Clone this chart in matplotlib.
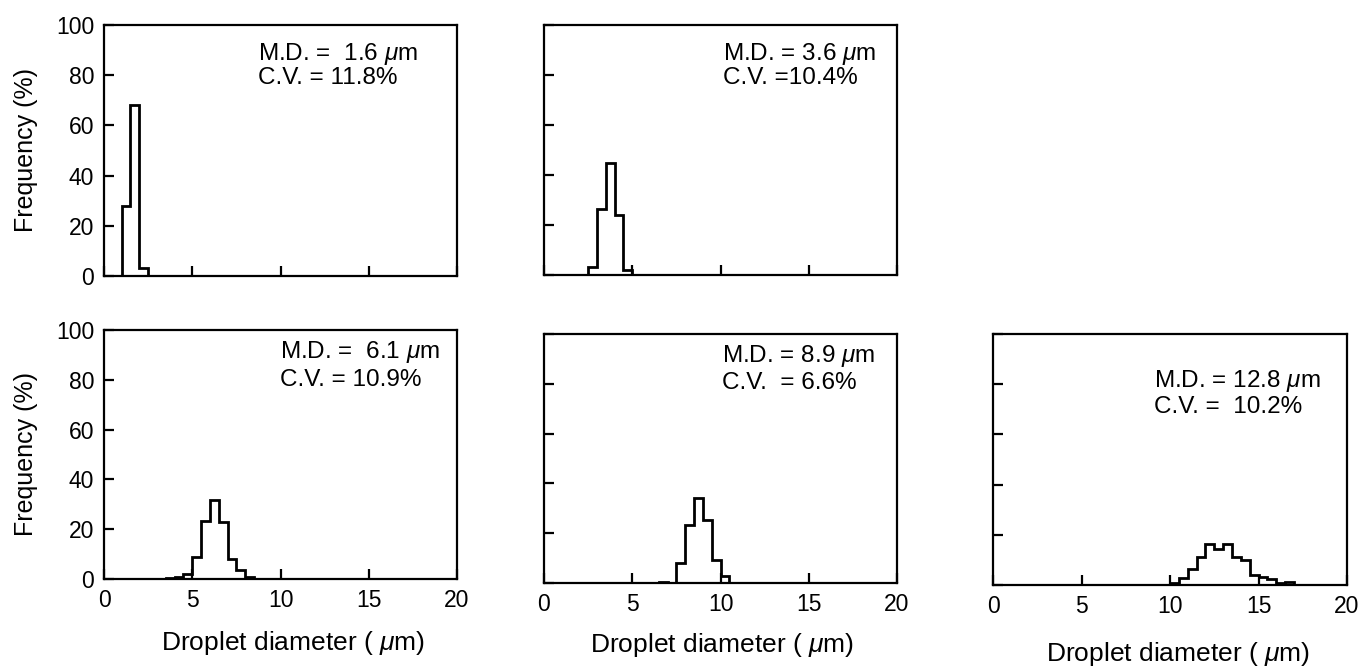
import matplotlib
matplotlib.use('Agg')
import matplotlib.pyplot as plt
import numpy as np

plt.rcParams['font.family'] = ['Liberation Sans', 'DejaVu Sans']
plt.rcParams['mathtext.fontset'] = 'custom'
plt.rcParams['mathtext.it'] = 'Liberation Sans:italic'
plt.rcParams['mathtext.rm'] = 'Liberation Sans'

# droplet size distributions, bin width 0.5 um, frequency in %
bin_width = 0.5

start_1 = 0.0
freq_1 = [0, 0, 28, 68, 3.3, 0]

start_2 = 1.5
freq_2 = [0, 0, 3.2, 26.4, 45, 24.2, 1.9, 0, 0]

start_3 = 2.0
freq_3 = [0, 0, 0.1, 0.3, 0.7, 1.9, 8.9, 23.4, 31.6, 22.7, 8.1, 3.8, 0.7, 0.2, 0, 0]

start_4 = 6.0
freq_4 = [0, 0.3, 0, 8.1, 23.3, 34, 25.2, 9.4, 3.0, 0]

start_5 = 9.5
freq_5 = [0, 0.7, 2.9, 6.3, 11, 16.5, 14.3, 16.5, 11.3, 10, 4, 3.3, 2.5, 0.7, 1.0, 0, 0]

md_labels = [r'M.D. =  1.6 $\mathit{\mu}$m', r'M.D. = 3.6 $\mathit{\mu}$m',
             r'M.D. =  6.1 $\mathit{\mu}$m', r'M.D. = 8.9 $\mathit{\mu}$m',
             r'M.D. = 12.8 $\mathit{\mu}$m']
cv_labels = ['C.V. = 11.8%', 'C.V. =10.4%', 'C.V. = 10.9%', 'C.V.  = 6.6%', 'C.V. =  10.2%']

x_ticks = [0, 5, 10, 15, 20]
y_ticks = [0, 20, 40, 60, 80, 100]

W, H = 1360, 666
fig = plt.figure(figsize=(W / 100, H / 100), dpi=100)

# (left, right, top, bottom) in pixels
boxes = [(104, 457, 25, 276), (544, 897, 25, 275),
         (104, 457, 330, 579), (544, 897, 334, 583), (993, 1347, 334, 585)]
text_pos = [(0.436, 0.884, 0.789), (0.507, 0.884, 0.789),
            (0.499, 0.912, 0.80), (0.504, 0.912, 0.803), (0.455, 0.813, 0.709)]
xlabel_pos = [None, None, (0.535, -0.257), (0.505, -0.249), (0.522, -0.275)]

starts = [start_1, start_2, start_3, start_4, start_5]
freqs = [freq_1, freq_2, freq_3, freq_4, freq_5]

for i in range(5):
    l, r, t, b = boxes[i]
    ax = fig.add_axes([l / W, (H - b) / H, (r - l) / W, (b - t) / H])
    vals = np.array(freqs[i])
    edges = starts[i] + bin_width * np.arange(len(vals) + 1)
    ax.stairs(vals, edges, color='black', linewidth=2.0, baseline=0)

    ax.set_xlim(0, 20)
    ax.set_ylim(0, 100)
    ax.set_xticks(x_ticks)
    ax.set_yticks(y_ticks)
    ax.tick_params(direction='in', length=7, width=1.6, labelsize=16.5, pad=7,
                   top=False, right=False)
    for s in ax.spines.values():
        s.set_linewidth(1.6)

    if i < 2:
        ax.set_xticklabels([])
    else:
        ax.set_xlabel(r'Droplet diameter ( $\mathit{\mu}$m)', fontsize=19, va='center')
        ax.xaxis.set_label_coords(*xlabel_pos[i])
    if i in (0, 2):
        ax.set_ylabel('Frequency (%)', fontsize=18, va='center')
        ax.yaxis.set_label_coords(-0.222, 0.5)
    else:
        ax.set_yticklabels([])

    tx, ty1, ty2 = text_pos[i]
    ax.text(tx, ty1, md_labels[i], transform=ax.transAxes, fontsize=17.5, va='center')
    ax.text(tx, ty2, cv_labels[i], transform=ax.transAxes, fontsize=17.5, va='center')

fig.savefig('out.png', dpi=100)
